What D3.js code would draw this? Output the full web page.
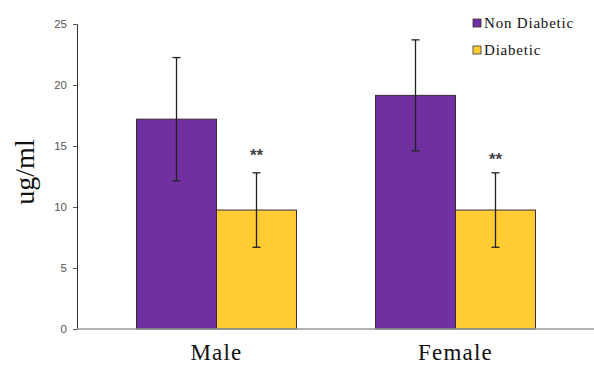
<!DOCTYPE html>
<html><head><meta charset="utf-8">
<script src="https://cdn.jsdelivr.net/npm/d3@7/dist/d3.min.js"></script>
<style>body{margin:0;background:#fff}svg{display:block}</style>
</head><body><svg id="c" width="594" height="365"></svg>
<script>
const categories = ["Male", "Female"];
const seriesNames = ["Non Diabetic", "Diabetic"];
const nonDiabetic = [17.2, 19.15];
const nonDiabeticErr = [5.05, 4.55];
const diabetic = [9.75, 9.75];
const diabeticErr = [3.05, 3.05];
const significance = ["**", "**"];
const yTicks = [0, 5, 10, 15, 20, 25];
const colors = ["#7030A0", "#FFCC33"];

const SERIF = "'Liberation Serif', 'Times New Roman', serif";
const SANS = "'Liberation Sans', Arial, sans-serif";

const svg = d3.select("#c");
const y = d3.scaleLinear().domain([0, 25]).range([329, 24]);
const x = d3.scaleBand().domain(categories).range([97, 575]).paddingInner(0).paddingOuter(0);
const xs = d3.scaleBand().domain(seriesNames).range([0, x.bandwidth()]).paddingInner(0).paddingOuter(0.494);

// axes
const yAxis = svg.append("g").attr("transform", "translate(77,0)")
  .call(d3.axisLeft(y).tickValues(yTicks).tickSize(4).tickPadding(6));
yAxis.select(".domain").attr("stroke", "#333");
yAxis.selectAll(".tick line").attr("stroke", "#555");
yAxis.selectAll(".tick text").style("font-family", SANS)
  .attr("font-size", 11.5).attr("fill", "#555");

const series = [
  {name: seriesNames[0], vals: nonDiabetic, errs: nonDiabeticErr, color: colors[0]},
  {name: seriesNames[1], vals: diabetic, errs: diabeticErr, color: colors[1]}
];

series.forEach((s) => {
  const g = svg.append("g");
  categories.forEach((c, ci) => {
    const x0 = x(c) + xs(s.name);
    const w = xs.bandwidth();
    g.append("rect").attr("x", x0).attr("y", y(s.vals[ci]))
      .attr("width", w).attr("height", y(0) - y(s.vals[ci]))
      .attr("fill", s.color).attr("stroke", "#3a2a3a").attr("stroke-width", 1);
  });
});

// x axis line
svg.append("line").attr("x1", 77).attr("x2", 594).attr("y1", y(0)).attr("y2", y(0))
  .attr("stroke", "#999").attr("stroke-width", 1.5);

// error bars
series.forEach((s) => {
  categories.forEach((c, ci) => {
    const cx = x(c) + xs(s.name) + xs.bandwidth() / 2;
    const top = y(s.vals[ci] + s.errs[ci]);
    const bot = y(s.vals[ci] - s.errs[ci]);
    const eg = svg.append("g").attr("stroke", "#222").attr("stroke-width", 1.3);
    eg.append("line").attr("x1", cx).attr("x2", cx).attr("y1", top).attr("y2", bot);
    eg.append("line").attr("x1", cx - 4).attr("x2", cx + 4).attr("y1", top).attr("y2", top);
    eg.append("line").attr("x1", cx - 4).attr("x2", cx + 4).attr("y1", bot).attr("y2", bot);
  });
});

// significance stars
categories.forEach((c, ci) => {
  const cx = x(c) + xs(seriesNames[1]) + xs.bandwidth() / 2;
  svg.append("text").attr("x", cx).attr("y", y(diabetic[ci] + diabeticErr[ci]) - (ci === 0 ? 12 : 8))
    .attr("text-anchor", "middle").style("font-family", SANS)
    .attr("font-size", 17).attr("font-weight", "bold").attr("fill", "#444")
    .text(significance[ci]);
});

// x labels
categories.forEach((c) => {
  svg.append("text").attr("x", x(c) + x.bandwidth() / 2).attr("y", 360)
    .attr("text-anchor", "middle").style("font-family", SERIF)
    .attr("font-size", 23).attr("letter-spacing", 1.2).attr("fill", "#111").text(c);
});

// y label
svg.append("text").attr("transform", "translate(34,172) rotate(-90)")
  .attr("text-anchor", "middle").style("font-family", SERIF)
  .attr("font-size", 28).attr("fill", "#111").text("ug/ml");

// legend
const lg = svg.append("g").attr("transform", "translate(473,0)");
seriesNames.forEach((n, i) => {
  const yy = 23 + i * 27;
  lg.append("rect").attr("x", 0).attr("y", yy - 4).attr("width", 8).attr("height", 8)
    .attr("fill", colors[i]).attr("stroke", "#333").attr("stroke-width", 0.8);
  lg.append("text").attr("x", 11).attr("y", yy + 5)
    .style("font-family", SERIF)
    .attr("font-size", 15).attr("letter-spacing", 0.8).attr("fill", "#111").text(n);
});
</script></body></html>
